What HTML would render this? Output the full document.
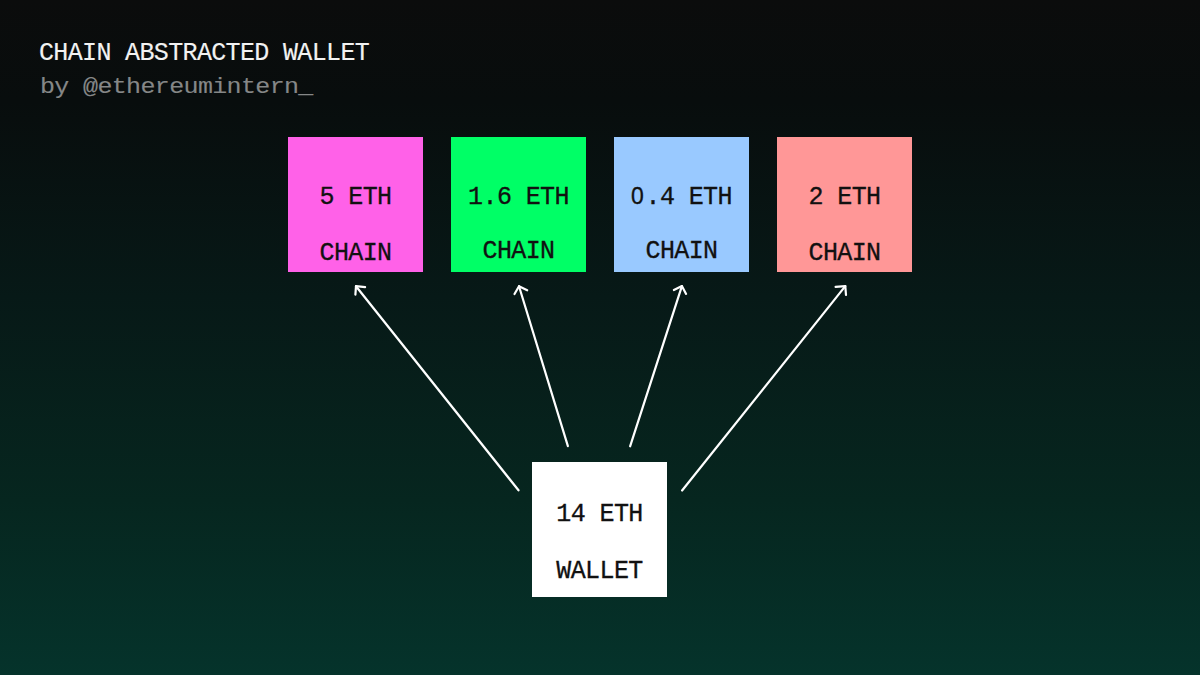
<!DOCTYPE html>
<html><head><meta charset="utf-8">
<style>
html,body{margin:0;padding:0;}
body{width:1200px;height:675px;overflow:hidden;position:relative;
background:linear-gradient(to bottom,#0b0c0c 0%,#080d0d 15%,#071917 44%,#06261f 74%,#05332b 100%);
font-family:"Liberation Mono",monospace;}
.t{position:absolute;white-space:pre;-webkit-text-stroke:0.15px currentColor;font-size:25px;line-height:24px;letter-spacing:-0.65px;}
.box{position:absolute;width:135px;height:135px;}
.bt{position:absolute;left:0;-webkit-text-stroke:0.3px currentColor;width:135px;text-align:center;color:#111;font-size:25px;line-height:20px;letter-spacing:-0.6px;white-space:pre;}
svg{position:absolute;left:0;top:0;}
.z{font-family:"Liberation Sans",sans-serif;font-size:23px;line-height:0;letter-spacing:1.6px;-webkit-text-stroke:0.3px currentColor;}
</style></head><body>
<div class="t" style="left:39px;top:42px;color:#f2f2f2">CHAIN ABSTRACTED WALLET</div>
<div class="t" style="left:40px;top:74.5px;color:#858787;transform:scaleY(0.88);transform-origin:0 18px">by @ethereumintern_</div>

<div class="box" style="left:288px;top:137px;background:#ff61e8">
  <div class="bt" style="top:51px">5 ETH</div>
  <div class="bt" style="top:107px">CHAIN</div>
</div>
<div class="box" style="left:451px;top:137px;background:#00ff66">
  <div class="bt" style="top:51px">1.6 ETH</div>
  <div class="bt" style="top:105px">CHAIN</div>
</div>
<div class="box" style="left:614px;top:137px;background:#99c9ff">
  <div class="bt" style="top:51px"><span class="z">0</span>.4 ETH</div>
  <div class="bt" style="top:105px">CHAIN</div>
</div>
<div class="box" style="left:777px;top:137px;background:#ff9797">
  <div class="bt" style="top:51px">2 ETH</div>
  <div class="bt" style="top:107px">CHAIN</div>
</div>
<div class="box" style="left:532px;top:462px;background:#ffffff">
  <div class="bt" style="top:43px">14 ETH</div>
  <div class="bt" style="top:100px">WALLET</div>
</div>

<svg width="1200" height="675" viewBox="0 0 1200 675">
 <g stroke="#fff" stroke-width="2.2" fill="none" stroke-linecap="round" stroke-linejoin="round">
  <line x1="518.5" y1="490.3" x2="356" y2="286.2"/>
  <polyline points="355.4,294.7 356,286.2 365.1,287.2"/>
  <line x1="567.9" y1="446.1" x2="519" y2="286.2"/>
  <polyline points="514.5,294 519,286.2 527.2,290.3"/>
  <line x1="630.1" y1="446.3" x2="681.9" y2="286.1"/>
  <polyline points="673.9,290 681.9,286.1 686.1,293.9"/>
  <line x1="682.1" y1="490.5" x2="845.3" y2="286.1"/>
  <polyline points="835.6,286.9 845.3,286.1 846,295"/>
 </g>
</svg>
</body></html>
